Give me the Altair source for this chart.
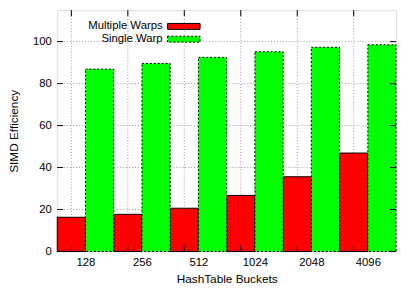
import altair as alt
import pandas as pd

buckets = ["128", "256", "512", "1024", "2048", "4096"]
multiple_warps = [16.3, 17.7, 20.6, 26.7, 35.6, 46.9]
single_warp = [86.9, 89.6, 92.5, 95.2, 97.3, 98.5]
series_names = ["Multiple Warps", "Single Warp"]
series_colors = ["#ff0000", "#00ff00"]
y_ticks = [0, 20, 40, 60, 80, 100]

rows = []
for i, b in enumerate(buckets):
    rows.append({"bucket": b, "series": series_names[0], "value": multiple_warps[i], "x0": 2 * i, "x1": 2 * i + 1})
    rows.append({"bucket": b, "series": series_names[1], "value": single_warp[i], "x0": 2 * i + 1, "x1": 2 * i + 2})
df = pd.DataFrame(rows)

grid_x = pd.DataFrame({"gx": [2 * i + 0.5 for i in range(len(buckets))]})
grid_y = pd.DataFrame({"gy": y_ticks})
legend_df = pd.DataFrame({"series": series_names, "color": series_colors, "py": [16.5, 29.5]})

W, H = 344, 245
FONT = "Liberation Sans"
xs = alt.Scale(domain=[0, 12], nice=False, zero=False)
ys = alt.Scale(domain=[0, 115], nice=False)

label_arr = "[" + ",".join("'%s'" % b for b in buckets) + "]"

base_axis_x = alt.Axis(values=[2 * i + 1 for i in range(len(buckets))],
                       labelExpr=label_arr + "[(datum.value-1)/2]",
                       title="HashTable Buckets", grid=False, ticks=False, domain=False,
                       labelFont=FONT, labelFontSize=11.5, labelColor="#000",
                       labelPadding=5, titleFont=FONT, titleFontSize=12,
                       titleFontWeight="normal", titleColor="#000", titlePadding=6)
base_axis_y = alt.Axis(values=y_ticks, title="SIMD Efficiency", grid=False, ticks=False,
                       domain=False, labelFont=FONT, labelFontSize=11.5,
                       labelColor="#000", labelPadding=6, titleFont=FONT,
                       titleFontSize=12, titleFontWeight="normal", titleColor="#000",
                       titlePadding=12)

# grid lines
vgrid = alt.Chart(grid_x).mark_rule(color="#999", strokeDash=[1, 2], strokeWidth=1).encode(
    x=alt.X("gx:Q", scale=xs, axis=base_axis_x))
hgrid = alt.Chart(grid_y).mark_rule(color="#999", strokeDash=[1, 2], strokeWidth=1).encode(
    y=alt.Y("gy:Q", scale=ys, axis=base_axis_y))

red_bars = alt.Chart(df).transform_filter(alt.datum.series == series_names[0]).mark_rect(
    color=series_colors[0], stroke="black", strokeWidth=1).encode(
    x=alt.X("x0:Q", scale=xs), x2="x1:Q",
    y=alt.Y("value:Q", scale=ys), y2=alt.datum(0))
green_bars = alt.Chart(df).transform_filter(alt.datum.series == series_names[1]).mark_rect(
    color=series_colors[1], stroke="black", strokeWidth=1, strokeDash=[2, 2]).encode(
    x=alt.X("x0:Q", scale=xs), x2="x1:Q",
    y=alt.Y("value:Q", scale=ys), y2=alt.datum(0))

# inward ticks
yt_left = alt.Chart(grid_y).mark_rule(color="black").encode(
    y=alt.Y("gy:Q", scale=ys), x=alt.value(0), x2=alt.value(6))
yt_right = alt.Chart(grid_y).mark_rule(color="black").encode(
    y=alt.Y("gy:Q", scale=ys), x=alt.value(W - 6), x2=alt.value(W))
xt_top = alt.Chart(grid_x).mark_rule(color="black").encode(
    x=alt.X("gx:Q", scale=xs), y=alt.value(0), y2=alt.value(6))
xt_bot = alt.Chart(grid_x).mark_rule(color="black").encode(
    x=alt.X("gx:Q", scale=xs), y=alt.value(H - 6), y2=alt.value(H))

# legend
leg_text = alt.Chart(legend_df).mark_text(align="right", baseline="middle",
                                          font=FONT, fontSize=11.5, color="black").encode(
    x=alt.value(107), y=alt.Y("py:Q", scale=None), text="series:N")
leg_sw_red = alt.Chart(legend_df).transform_filter(alt.datum.series == series_names[0]).mark_rect(
    stroke="black", strokeWidth=1).encode(
    x=alt.value(112), x2=alt.value(145),
    y=alt.Y("top:Q", scale=None), y2=alt.Y2("bot:Q"),
    color=alt.Color("color:N", scale=None)).transform_calculate(top="datum.py-3", bot="datum.py+3")
leg_sw_green = alt.Chart(legend_df).transform_filter(alt.datum.series == series_names[1]).mark_rect(
    stroke="black", strokeWidth=1, strokeDash=[2, 2]).encode(
    x=alt.value(112), x2=alt.value(145),
    y=alt.Y("top:Q", scale=None), y2=alt.Y2("bot:Q"),
    color=alt.Color("color:N", scale=None)).transform_calculate(top="datum.py-3", bot="datum.py+3")

chart = alt.layer(vgrid, hgrid, red_bars, green_bars, yt_left, yt_right, xt_top, xt_bot,
                  leg_text, leg_sw_red, leg_sw_green).properties(
    width=W, height=H,
    autosize=alt.AutoSizeParams(type="none"),
    padding={"left": 50, "top": 0, "right": 5, "bottom": 40},
).configure_view(stroke="black", strokeWidth=1).configure(background="white")

chart.save("out.html", embed_options={"renderer": "svg", "actions": False})
